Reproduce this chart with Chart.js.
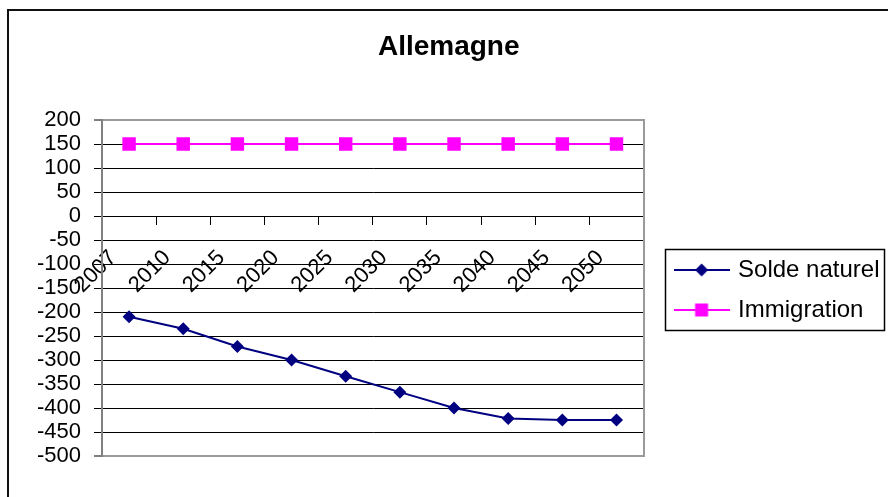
<!DOCTYPE html>
<html>
<head>
<meta charset="utf-8">
<style>
  html, body { margin: 0; padding: 0; background: #fff; }
  #wrap { width: 888px; height: 497px; }
</style>
<script src="https://cdn.jsdelivr.net/npm/chart.js@4.4.1/dist/chart.umd.min.js"></script>
</head>
<body>
<div id="wrap"><canvas id="chart" width="888" height="497"></canvas></div>
<script>
// Years on the horizontal axis
const years = ['2007', '2010', '2015', '2020', '2025', '2030', '2035', '2040', '2045', '2050'];
// Natural balance (births minus deaths), thousands
const soldeNaturel = [-210, -235, -272, -300, -334, -367, -400, -422, -425, -425];
// Net immigration, thousands
const immigration = [150, 150, 150, 150, 150, 150, 150, 150, 150, 150];
// Vertical axis range and step
const yMin = -500;
const yMax = 200;
const yStep = 50;

const FONT = "'Liberation Sans', Arial, sans-serif";
const NAVY = '#000080';
const MAGENTA = '#FF00FF';

// Legend samples: a short line segment with the series marker in the middle
function legendIcon(color, shape) {
  const c = document.createElement('canvas');
  c.width = 56; c.height = 16;
  const g = c.getContext('2d');
  g.strokeStyle = color; g.lineWidth = 2;
  g.beginPath(); g.moveTo(0, 8); g.lineTo(56, 8); g.stroke();
  g.fillStyle = color;
  g.beginPath();
  if (shape === 'diamond') {
    g.moveTo(28, 1.5); g.lineTo(34.5, 8); g.lineTo(28, 14.5); g.lineTo(21.5, 8);
  } else {
    g.rect(21.5, 1.5, 13, 13);
  }
  g.closePath(); g.fill();
  return c;
}
const legendIcons = [legendIcon(NAVY, 'diamond'), legendIcon(MAGENTA, 'square')];

// White page, outer frame and the frame round the legend
const framePlugin = {
  id: 'frames',
  beforeDraw(chart) {
    const ctx = chart.ctx;
    ctx.save();
    ctx.fillStyle = '#fff';
    ctx.fillRect(0, 0, chart.width, chart.height);
    ctx.strokeStyle = '#111';
    ctx.lineWidth = 2;
    ctx.strokeRect(8, 10, chart.width + 20, chart.height + 20);
    ctx.restore();
  },
  afterDraw(chart) {
    const boxes = chart.legend && chart.legend.legendHitBoxes;
    if (!boxes || !boxes.length) return;
    const ctx = chart.ctx;
    const left = Math.min(...boxes.map(b => b.left)) - 12.5;
    const right = Math.max(...boxes.map(b => b.left + b.width)) + 4;
    const top = boxes[0].top - 9;
    const last = boxes[boxes.length - 1];
    const bottom = last.top + last.height + 8;
    ctx.save();
    ctx.strokeStyle = '#000';
    ctx.lineWidth = 1.5;
    ctx.strokeRect(Math.round(left) + 0.5, Math.round(top) + 0.5, Math.round(right - left), Math.round(bottom - top));
    ctx.restore();
  }
};

new Chart(document.getElementById('chart'), {
  type: 'line',
  data: {
    labels: years,
    datasets: [
      {
        label: 'Solde naturel',
        data: soldeNaturel,
        borderColor: NAVY,
        backgroundColor: NAVY,
        borderWidth: 2,
        pointStyle: 'rectRot',
        pointRadius: 6.5,
        pointHoverRadius: 6.5,
        pointBorderWidth: 0,
        tension: 0,
        yAxisID: 'y'
      },
      {
        label: 'Immigration',
        data: immigration,
        borderColor: MAGENTA,
        backgroundColor: MAGENTA,
        borderWidth: 2,
        pointStyle: 'rect',
        pointRadius: 9.5,
        pointHoverRadius: 9.5,
        pointBorderWidth: 0,
        tension: 0,
        yAxisID: 'y'
      }
    ]
  },
  options: {
    responsive: false,
    animation: false,
    devicePixelRatio: 1,
    layout: { padding: { left: 8, right: -1.5, top: 10, bottom: 41 } },
    plugins: {
      title: {
        display: true,
        text: 'Allemagne',
        color: '#000',
        font: { family: FONT, size: 28, weight: 'bold' },
        padding: { top: 20, bottom: 56.4 }
      },
      legend: {
        display: true,
        position: 'right',
        maxWidth: 240,
        // empty heading used as a spacer so the entries sit beside the plot's middle
        title: { display: true, text: ' ', font: { size: 10 }, padding: { top: 102, bottom: 0 } },
        labels: {
          color: '#000',
          font: { family: FONT, size: 24 },
          usePointStyle: true,
          pointStyleWidth: 49,
          padding: 16,
          generateLabels(chart) {
            const items = Chart.defaults.plugins.legend.labels.generateLabels(chart);
            items.forEach((it, i) => { it.pointStyle = legendIcons[i]; });
            return items;
          }
        }
      },
      tooltip: { enabled: false }
    },
    scales: {
      x: {
        type: 'category',
        position: { y: 0 },
        offset: true,
        grid: {
          display: true,
          offset: true,
          drawOnChartArea: false,
          drawTicks: true,
          tickLength: 8,
          tickColor: '#000',
          tickWidth: 1,
          color: '#000'
        },
        border: { display: true, color: '#000', width: 1 },
        ticks: {
          color: '#000',
          font: { family: FONT, size: 22 },
          minRotation: 45,
          maxRotation: 45,
          autoSkip: false,
          padding: 21,
          labelOffset: -16
        }
      },
      y: {
        type: 'linear',
        position: 'left',
        min: yMin,
        max: yMax,
        grid: {
          color: c => (c.tick && (c.tick.value === yMax || c.tick.value === yMin)) ? '#9a9a9a' : '#000',
          lineWidth: c => (c.tick && (c.tick.value === yMax || c.tick.value === yMin)) ? 2 : 1,
          tickColor: '#000',
          tickWidth: 1,
          tickLength: 8
        },
        border: { display: true, color: '#808080', width: 2 },
        ticks: {
          stepSize: yStep,
          autoSkip: false,
          color: '#000',
          font: { family: FONT, size: 22 },
          padding: 13
        },
        afterFit(scale) { scale.width = 94; }
      },
      frameRight: {
        type: 'linear',
        position: 'right',
        grid: { display: false, drawOnChartArea: false, drawTicks: false },
        border: { display: true, color: '#9a9a9a', width: 2 },
        ticks: { display: false },
        afterFit(scale) { scale.width = 17.5; }
      }
    }
  },
  plugins: [framePlugin]
});
</script>
</body>
</html>
